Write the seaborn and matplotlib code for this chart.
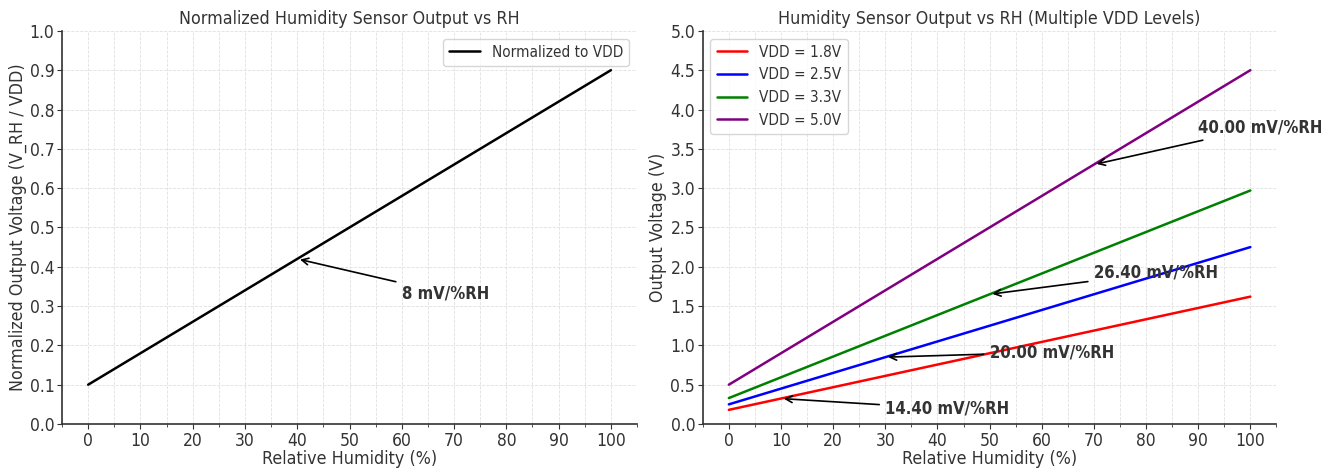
import numpy as np
import pandas as pd
import matplotlib
matplotlib.use("Agg")
import matplotlib.pyplot as plt
import seaborn as sns
from matplotlib.ticker import MultipleLocator

# data (straight lines: endpoints at RH 0 and 100)
rh = [0, 100]
norm_out = [0.10, 0.90]
vdd_labels = ["VDD = 1.8V", "VDD = 2.5V", "VDD = 3.3V", "VDD = 5.0V"]
vdd_out = {
    "VDD = 1.8V": [0.18, 1.62],
    "VDD = 2.5V": [0.25, 2.25],
    "VDD = 3.3V": [0.33, 2.97],
    "VDD = 5.0V": [0.50, 4.50],
}
colors = ["red", "blue", "green", "purple"]

# annotations: (label, point RH, point V, text RH, text V)
norm_note = ("8 mV/%RH", 40, 0.42, 60, 0.32)
vdd_notes = [
    ("14.40 mV/%RH", 10, 0.324, 30, 0.13),
    ("20.00 mV/%RH", 30, 0.85, 50, 0.85),
    ("26.40 mV/%RH", 50, 1.65, 70, 1.86),
    ("40.00 mV/%RH", 70, 3.30, 90, 3.71),
]

sns.set_style("ticks")
plt.rcParams["font.family"] = ["DejaVu Sans"]
plt.rcParams["font.stretch"] = "condensed"
plt.rcParams["text.color"] = "#333333"
plt.rcParams["axes.labelcolor"] = "#333333"
plt.rcParams["xtick.color"] = "#333333"
plt.rcParams["ytick.color"] = "#333333"

df_norm = pd.DataFrame({"RH": rh, "V": norm_out})
df_vdd = pd.concat(
    [pd.DataFrame({"RH": rh, "V": vdd_out[k], "VDD": k}) for k in vdd_labels],
    ignore_index=True,
)

fig, (ax1, ax2) = plt.subplots(1, 2, figsize=(13.31, 4.68), dpi=100)
ax1.set_position([0.0466, 0.094, 0.432, 0.840])
ax2.set_position([0.528, 0.094, 0.431, 0.840])


def style_axes(ax):
    ax.xaxis.set_major_locator(MultipleLocator(10))
    ax.xaxis.set_minor_locator(MultipleLocator(5))
    ax.grid(True, which="both", linestyle="--", linewidth=0.6, color="#e0e0e0")
    ax.set_axisbelow(True)
    for s in ["top", "right"]:
        ax.spines[s].set_visible(False)
    for s in ["left", "bottom"]:
        ax.spines[s].set_color("#333333")
        ax.spines[s].set_linewidth(1.2)
    ax.tick_params(labelsize=12.5, pad=2)
    ax.set_xlim(-5, 105)


sns.lineplot(data=df_norm, x="RH", y="V", color="black", linewidth=1.8,
             label="Normalized to VDD", ax=ax1)
style_axes(ax1)
ax1.set_ylim(0, 1.0)
ax1.yaxis.set_major_locator(MultipleLocator(0.1))
ax1.set_title("Normalized Humidity Sensor Output vs RH", fontsize=12.8, pad=5)
ax1.set_xlabel("Relative Humidity (%)", fontsize=12.8, labelpad=0)
ax1.set_ylabel("Normalized Output Voltage (V_RH / VDD)", fontsize=12.8, labelpad=2)
ax1.legend(loc="upper right", fontsize=11)
t, px, py, tx, ty = norm_note
ax1.annotate(t, xy=(px, py), xytext=(tx, ty), fontsize=12, fontweight="bold",
             arrowprops=dict(arrowstyle="->", color="black", lw=1.2))

sns.lineplot(data=df_vdd, x="RH", y="V", hue="VDD", palette=colors,
             linewidth=1.8, ax=ax2)
style_axes(ax2)
ax2.set_ylim(0, 5.0)
ax2.yaxis.set_major_locator(MultipleLocator(0.5))
ax2.set_title("Humidity Sensor Output vs RH (Multiple VDD Levels)", fontsize=12.8, pad=5)
ax2.set_xlabel("Relative Humidity (%)", fontsize=12.8, labelpad=0)
ax2.set_ylabel("Output Voltage (V)", fontsize=12.8, labelpad=2)
ax2.legend(title=None, loc="upper left", fontsize=11)
for t, px, py, tx, ty in vdd_notes:
    ax2.annotate(t, xy=(px, py), xytext=(tx, ty), fontsize=12, fontweight="bold",
                 arrowprops=dict(arrowstyle="->", color="black", lw=1.2))

plt.savefig("out.png", dpi=100)
